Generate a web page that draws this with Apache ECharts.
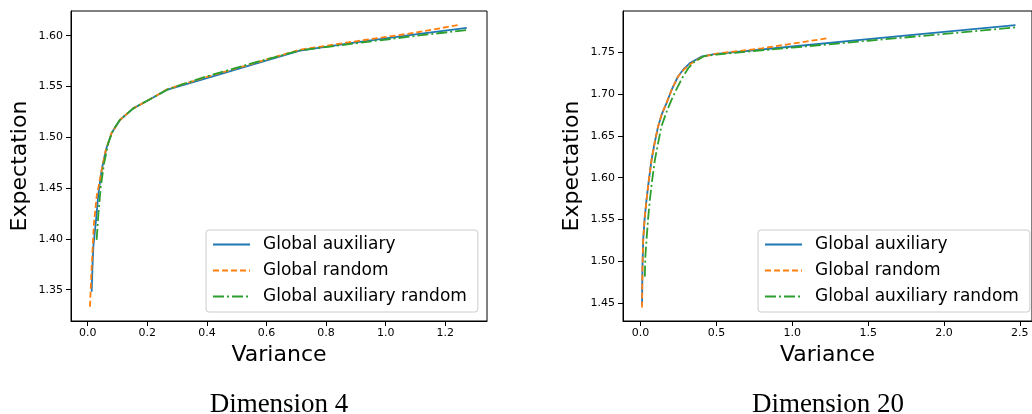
<!DOCTYPE html>
<html>
<head>
<meta charset="utf-8">
<script src="https://cdn.jsdelivr.net/npm/echarts@6/dist/echarts.min.js"></script>
<style>
html,body{margin:0;padding:0;background:#fff;}
#chart{width:1032px;height:414px;}
</style>
</head>
<body>
<div id="chart"></div>
<script>
// ---- Dimension 4 ----
const d4AuxX  = [0.0134, 0.016, 0.019, 0.028, 0.036, 0.047, 0.061, 0.080, 0.108, 0.153, 0.209, 0.265, 0.40, 0.55, 0.712, 0.90, 1.10, 1.272];
const d4AuxY  = [1.348, 1.372, 1.3923, 1.4186, 1.4449, 1.4678, 1.4875, 1.504, 1.517, 1.5285, 1.5374, 1.5466, 1.5583, 1.5712, 1.5852, 1.5935, 1.6012, 1.6076];
const d4RndX  = [0.0077, 0.0134, 0.021, 0.030, 0.036, 0.047, 0.061, 0.080, 0.108, 0.153, 0.209, 0.265, 0.30, 0.40, 0.55, 0.712, 0.90, 1.10, 1.249];
const d4RndY  = [1.3333, 1.3726, 1.4153, 1.4415, 1.4505, 1.4678, 1.4875, 1.504, 1.517, 1.5285, 1.5374, 1.5470, 1.5505, 1.5595, 1.5722, 1.5862, 1.5945, 1.6030, 1.6108];
const d4AuxRndX = [0.030, 0.036, 0.044, 0.055, 0.069, 0.085, 0.108, 0.153, 0.209, 0.265, 0.30, 0.40, 0.55, 0.712, 0.90, 1.10, 1.272];
const d4AuxRndY = [1.399, 1.4252, 1.4514, 1.4744, 1.4941, 1.507, 1.517, 1.5285, 1.5374, 1.5466, 1.5505, 1.5600, 1.5727, 1.5855, 1.5925, 1.5998, 1.6056];

// ---- Dimension 20 ----
const d20AuxX = [0.0095, 0.012, 0.017, 0.027, 0.039, 0.055, 0.072, 0.092, 0.115, 0.140, 0.170, 0.205, 0.246, 0.285, 0.323, 0.399, 0.486, 1.0, 1.5, 2.0, 2.471];
const d20AuxY = [1.448, 1.490, 1.5257, 1.552, 1.5734, 1.598, 1.6211, 1.641, 1.6609, 1.676, 1.6888, 1.705, 1.7205, 1.730, 1.7365, 1.7444, 1.7476, 1.7566, 1.7653, 1.7740, 1.7822];
const d20RndX = [0.0095, 0.012, 0.017, 0.027, 0.039, 0.055, 0.072, 0.092, 0.115, 0.140, 0.170, 0.205, 0.246, 0.285, 0.323, 0.399, 0.486, 0.80, 1.0, 1.228];
const d20RndY = [1.445, 1.490, 1.5257, 1.552, 1.5734, 1.598, 1.6211, 1.641, 1.6609, 1.676, 1.6888, 1.705, 1.7205, 1.729, 1.7350, 1.7435, 1.7478, 1.7545, 1.7600, 1.7663];
const d20AuxRndX = [0.028, 0.031, 0.039, 0.050, 0.061, 0.077, 0.094, 0.115, 0.137, 0.170, 0.203, 0.240, 0.279, 0.315, 0.355, 0.421, 0.50, 1.0, 1.5, 2.0, 2.478];
const d20AuxRndY = [1.4819, 1.505, 1.5257, 1.552, 1.5734, 1.598, 1.6211, 1.641, 1.6609, 1.678, 1.6927, 1.707, 1.7205, 1.731, 1.7384, 1.7452, 1.7470, 1.7553, 1.7635, 1.7716, 1.7795];

// ---- tick values ----
const d4XTicks  = [0.0, 0.2, 0.4, 0.6, 0.8, 1.0, 1.2];
const d4YTicks  = [1.35, 1.40, 1.45, 1.50, 1.55, 1.60];
const d20XTicks = [0.0, 0.5, 1.0, 1.5, 2.0, 2.5];
const d20YTicks = [1.45, 1.50, 1.55, 1.60, 1.65, 1.70, 1.75];

const seriesNames = ['Global auxiliary', 'Global random', 'Global auxiliary random'];
const titles = ['Dimension 4', 'Dimension 20'];

const C_BLUE = '#1f77b4', C_ORANGE = '#ff7f0e', C_GREEN = '#2ca02c';
const FONT = 'DejaVu Sans';

function pairs(xs, ys) { return xs.map((x, i) => [x, ys[i]]); }

function xAxis(gi, min, max, ticks, dec) {
  return {
    type: 'value', gridIndex: gi, min: min, max: max,
    name: 'Variance', nameLocation: 'middle', nameGap: 20,
    nameTextStyle: { fontFamily: FONT, fontSize: 22, color: '#000' },
    axisLine: { show: true, onZero: false, lineStyle: { color: '#000', width: 1 } },
    axisTick: { show: true, inside: false, length: 5, customValues: ticks, lineStyle: { color: '#000', width: 1 } },
    axisLabel: { customValues: ticks, margin: 7, fontFamily: FONT, fontSize: 11, color: '#000',
      formatter: v => Number(v).toFixed(dec) },
    splitLine: { show: false }
  };
}
function yAxis(gi, min, max, ticks) {
  return {
    type: 'value', gridIndex: gi, min: min, max: max,
    name: 'Expectation', nameLocation: 'middle', nameGap: 40, nameRotate: 90,
    nameTextStyle: { fontFamily: FONT, fontSize: 22, color: '#000' },
    axisLine: { show: true, onZero: false, lineStyle: { color: '#000', width: 1 } },
    axisTick: { show: true, inside: false, length: 5, customValues: ticks, lineStyle: { color: '#000', width: 1 } },
    axisLabel: { customValues: ticks, margin: 8, fontFamily: FONT, fontSize: 11, color: '#000',
      formatter: v => Number(v).toFixed(2) },
    splitLine: { show: false }
  };
}
const styles = [
  { color: C_BLUE, type: 'solid' },
  { color: C_ORANGE, type: [6, 3] },
  { color: C_GREEN, type: [11, 3, 2, 3] }
];
function line(gi, idx, data) {
  return {
    type: 'line', name: seriesNames[idx], xAxisIndex: gi, yAxisIndex: gi,
    data: data, symbol: 'none', clip: true,
    color: styles[idx].color,
    lineStyle: { color: styles[idx].color, width: 1.8, type: styles[idx].type },
    z: 3 + idx
  };
}
function legend(left) {
  return {
    show: true, orient: 'vertical', left: left, top: 230,
    data: seriesNames,
    itemWidth: 37, itemHeight: 12, itemGap: 9,
    padding: [6, 11, 7, 6],
    backgroundColor: 'rgba(255,255,255,0.85)',
    borderColor: '#cccccc', borderWidth: 1, borderRadius: 3,
    itemStyle: { opacity: 0 },
    textStyle: { fontFamily: FONT, fontSize: 17, color: '#000', lineHeight: 17, padding: [0, 0, 0, 8] },
    selectedMode: false
  };
}

const chart = echarts.init(document.getElementById('chart'), null, { renderer: 'canvas' });
chart.setOption({
  animation: false,
  backgroundColor: '#ffffff',
  grid: [
    { left: 71, top: 11, width: 416, height: 310, show: true, borderColor: '#000', borderWidth: 1, backgroundColor: 'transparent' },
    { left: 623, top: 11, width: 412, height: 310, show: true, borderColor: '#000', borderWidth: 1, backgroundColor: 'transparent' }
  ],
  xAxis: [
    xAxis(0, -0.056, 1.34, d4XTicks, 1),
    xAxis(1, -0.116, 2.58, d20XTicks, 1)
  ],
  yAxis: [
    yAxis(0, 1.3192, 1.6243, d4YTicks),
    yAxis(1, 1.4289, 1.799, d20YTicks)
  ],
  legend: [legend(206), legend(758)],
  graphic: [
    { type: 'text', x: 279, y: 405, style: { text: titles[0], align: 'center', verticalAlign: 'middle', fontFamily: 'Liberation Serif', fontSize: 27, fill: '#000' } },
    { type: 'text', x: 828, y: 405, style: { text: titles[1], align: 'center', verticalAlign: 'middle', fontFamily: 'Liberation Serif', fontSize: 27, fill: '#000' } }
  ],
  series: [
    line(0, 0, pairs(d4AuxX, d4AuxY)),
    line(0, 1, pairs(d4RndX, d4RndY)),
    line(0, 2, pairs(d4AuxRndX, d4AuxRndY)),
    line(1, 0, pairs(d20AuxX, d20AuxY)),
    line(1, 1, pairs(d20RndX, d20RndY)),
    line(1, 2, pairs(d20AuxRndX, d20AuxRndY))
  ]
});
</script>
</body>
</html>
